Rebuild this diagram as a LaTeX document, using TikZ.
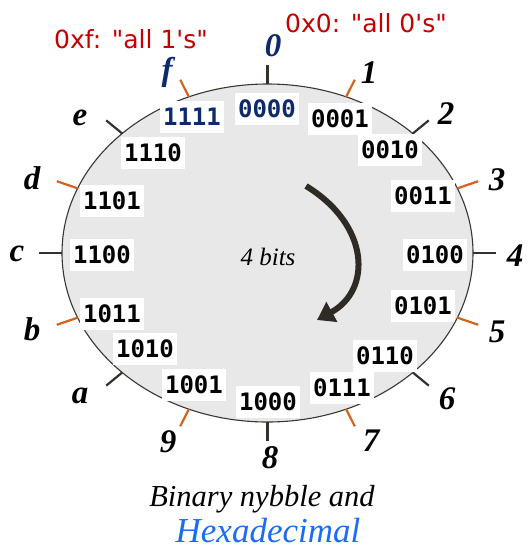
\documentclass[tikz,border=0pt]{standalone}
\usepackage{fontspec}
\setmainfont{Liberation Serif}
\newfontfamily\binfont{DejaVu Sans Mono}
\newfontfamily\redfont{DejaVu Sans}[Ligatures=TeXOff]
\usetikzlibrary{calc,arrows.meta}
\definecolor{ellgray}{HTML}{E8E8E8}
\definecolor{outline}{HTML}{3A3630}
\definecolor{tickdark}{HTML}{35312B}
\definecolor{tickorange}{HTML}{D4621E}
\definecolor{navy}{HTML}{0C2A6C}
\definecolor{noteRed}{HTML}{C40000}
\definecolor{hexblue}{HTML}{1A6CF2}
\definecolor{arrowdark}{HTML}{2E2B26}
\tikzset{
  binbox/.style={fill=white, font=\binfont\bfseries\fontsize{24}{24}\selectfont,
    minimum width=64pt, minimum height=32pt, inner sep=0pt},
  hexlab/.style={font=\fontsize{33}{33}\selectfont\bfseries\itshape, inner sep=0pt},
  tickline/.style={line width=2.2pt},
  notetext/.style={font=\redfont\fontsize{25}{25}\selectfont, text=noteRed, inner sep=0pt, anchor=base},
  bigarrow/.style={draw=arrowdark, line width=6pt, -{Triangle[length=17pt,width=22pt]}},
}
\begin{document}
\begin{tikzpicture}[x=1pt,y=-1pt]
\useasboundingbox (0,0) rectangle (531,550);
\coordinate (C) at (267.5,253);
% ellipse
\draw[fill=ellgray, draw=outline, line width=1.1pt] (C) ellipse [x radius=205.5pt, y radius=169pt];
% ticks
\foreach \i in {0,...,15}{
  \pgfmathsetmacro{\ang}{90-22.5*\i}
  \coordinate (in\i) at ($(C)+(\ang:205.5pt and 169pt)$);
  \coordinate (out\i) at ($(C)!1.11!(in\i)$);
  \ifodd\i\relax \def\tc{tickorange}\else\def\tc{tickdark}\fi
  \draw[tickline, draw=\tc] (in\i) -- (out\i);
}
% binary labels
\node[binbox, text=navy] (b0) at (267,109) {0000};
\node[binbox] (b1) at (340,119) {0001};
\node[binbox] (b2) at (390,150) {0010};
\node[binbox] (b3) at (423,196) {0011};
\node[binbox] (b4) at (435,255) {0100};
\node[binbox] (b5) at (423,306) {0101};
\node[binbox] (b6) at (385,356) {0110};
\node[binbox] (b7) at (342,388) {0111};
\node[binbox] (b8) at (268,402) {1000};
\node[binbox] (b9) at (194,385) {1001};
\node[binbox] (b10) at (145,349) {1010};
\node[binbox] (b11) at (112,314) {1011};
\node[binbox] (b12) at (102,255) {1100};
\node[binbox] (b13) at (112,201) {1101};
\node[binbox] (b14) at (153,153) {1110};
\node[binbox, text=navy] (b15) at (192,117) {1111};
% hex labels
\node[hexlab, text=navy] (h0) at (273,46) {0};
\node[hexlab] (h1) at (369,73) {1};
\node[hexlab] (h2) at (446,114) {2};
\node[hexlab] (h3) at (497,180) {3};
\node[hexlab] (h4) at (515,256) {4};
\node[hexlab] (h5) at (497,332) {5};
\node[hexlab] (h6) at (447,399) {6};
\node[hexlab] (h7) at (371,441) {7};
\node[hexlab] (h8) at (270,458) {8};
\node[hexlab] (h9) at (168,442) {9};
\node[hexlab] (ha) at (80,396) {a};
\node[hexlab] (hb) at (32,329) {b};
\node[hexlab] (hc) at (17,254) {c};
\node[hexlab] (hd) at (32,178) {d};
\node[hexlab] (he) at (80,118) {e};
\node[hexlab, text=navy] (hf) at (167,72) {f};
% center text and arrow
\node[font=\fontsize{25}{25}\selectfont\itshape, inner sep=0pt] (bits) at (268,257) {4 bits};
\coordinate (arrS) at (306,186);
\coordinate (arrE) at (317,320);
\draw[bigarrow] (arrS) .. controls (370,225) and (372,290) .. (arrE);
% notes
\node[notetext] (n1) at (131,48) {0xf: "all 1's"};
\node[notetext] (n2) at (366,32) {0x0: "all 0's"};
% caption
\node[font=\fontsize{30.5}{30.5}\selectfont\itshape, inner sep=0pt, anchor=base] (cap1) at (262,506) {Binary nybble and};
\node[font=\fontsize{35}{35}\selectfont\itshape, text=hexblue, inner sep=0pt, anchor=base] (cap2) at (268,542) {Hexadecimal};
\end{tikzpicture}
\end{document}
